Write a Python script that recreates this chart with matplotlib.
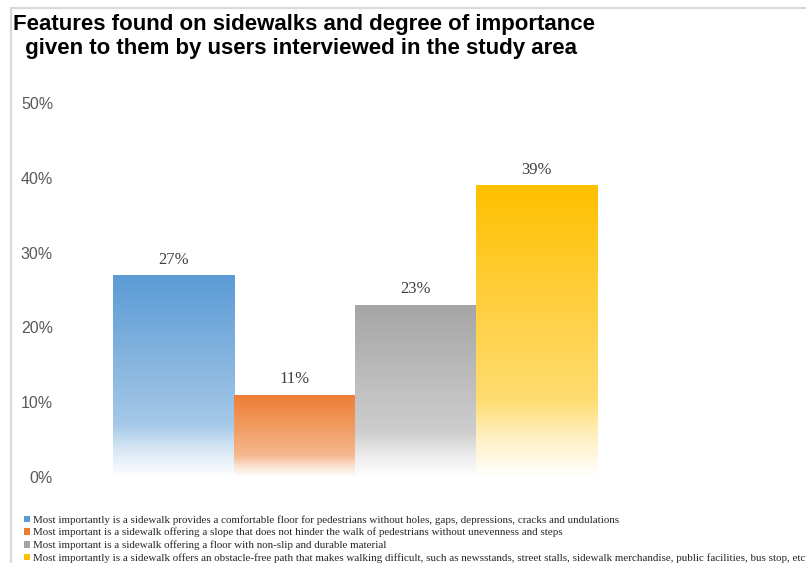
import matplotlib
matplotlib.use("Agg")
import matplotlib.pyplot as plt
import numpy as np
from matplotlib.colors import to_rgb
from matplotlib.patches import Patch, Rectangle

title = ("Features found on sidewalks and degree of importance\n"
         "  given to them by users interviewed in the study area")

labels = [
    "Most importantly is a sidewalk provides a comfortable floor for pedestrians "
    "without holes, gaps, depressions, cracks and undulations",
    "Most important is a sidewalk offering a slope that does not hinder the walk "
    "of pedestrians without unevenness and steps",
    "Most important is a sidewalk offering a floor with non-slip and durable material",
    "Most importantly is a sidewalk offers an obstacle-free path that makes walking "
    "difficult, such as newsstands, street stalls, sidewalk merchandise, public "
    "facilities, bus stop, etc",
]
values = [0.27, 0.11, 0.23, 0.39]
colors = ["#5B9BD5", "#ED7D31", "#A5A5A5", "#FFC000"]
yticks = [0, 0.1, 0.2, 0.3, 0.4, 0.5]

W, H = 806, 563
fig = plt.figure(figsize=(W / 100, H / 100), dpi=100)


def px(x0, y0, x1, y1):
    # pixel box (top-left origin) -> figure fraction [l, b, w, h]
    return [x0 / W, 1 - y1 / H, (x1 - x0) / W, (y1 - y0) / H]


# light grey frame around the chart area
fig.patches.append(Rectangle((11 / W, -0.1), 1.2, 1 - 8 / H + 0.1,
                             transform=fig.transFigure, fill=False,
                             edgecolor="#D9D9D9", linewidth=1.6))

ax = fig.add_axes(px(60, 103, 790, 477))


def gradient_cmap(c):
    base = np.array(to_rgb(c))
    white = np.ones(3)
    stops = [(0.0, base),
             (0.74, base + (white - base) * 0.45),
             (0.86, base + (white - base) * 0.75),
             (1.0, white)]
    t = np.linspace(0, 1, 256)
    out = np.zeros((256, 1, 3))
    for k in range(3):
        out[:, 0, k] = np.interp(t, [s[0] for s in stops], [s[1][k] for s in stops])
    return out


bars = ax.bar(range(len(values)), values, width=1.0, color="none", edgecolor="none")
for bar, c, v in zip(bars, colors, values):
    x0, w, h = bar.get_x(), bar.get_width(), bar.get_height()
    img = ax.imshow(gradient_cmap(c), extent=(x0, x0 + w, 0, h), origin="upper",
                    aspect="auto", interpolation="bilinear", zorder=2)
    img.set_clip_path(bar)
    ax.text(x0 + w / 2, h + 0.01, f"{v * 100:.0f}%", ha="center", va="bottom",
            family="Liberation Serif", fontsize=12, color="#404040")

ax.set_xlim(-0.938, 5.095)
ax.set_ylim(0, 0.5)
ax.set_yticks(yticks)
ax.set_yticklabels([f"{t * 100:.0f}%" for t in yticks])
ax.tick_params(axis="y", length=0, pad=5, labelsize=11.5, labelcolor="#595959")
for lbl in ax.get_yticklabels():
    lbl.set_family("Liberation Sans")
ax.set_xticks([])
for s in ax.spines.values():
    s.set_visible(False)
ax.set_facecolor("none")

fig.text(13 / W, 1 - 14 / H, title, ha="left", va="top", family="Liberation Sans",
         fontweight="bold", fontsize=16, color="black", linespacing=1.2)

handles = [Patch(facecolor=c, edgecolor="none") for c in colors]
fig.legend(handles, labels, loc="upper left", bbox_to_anchor=(24 / W, 1 - 515 / H),
           frameon=False, handlelength=0.55, handleheight=0.55, handletextpad=0.3,
           labelspacing=0.28, borderaxespad=0, borderpad=0,
           prop={"family": "Liberation Serif", "size": 7.9}, labelcolor="#262626")

fig.savefig("out.png", dpi=100)
